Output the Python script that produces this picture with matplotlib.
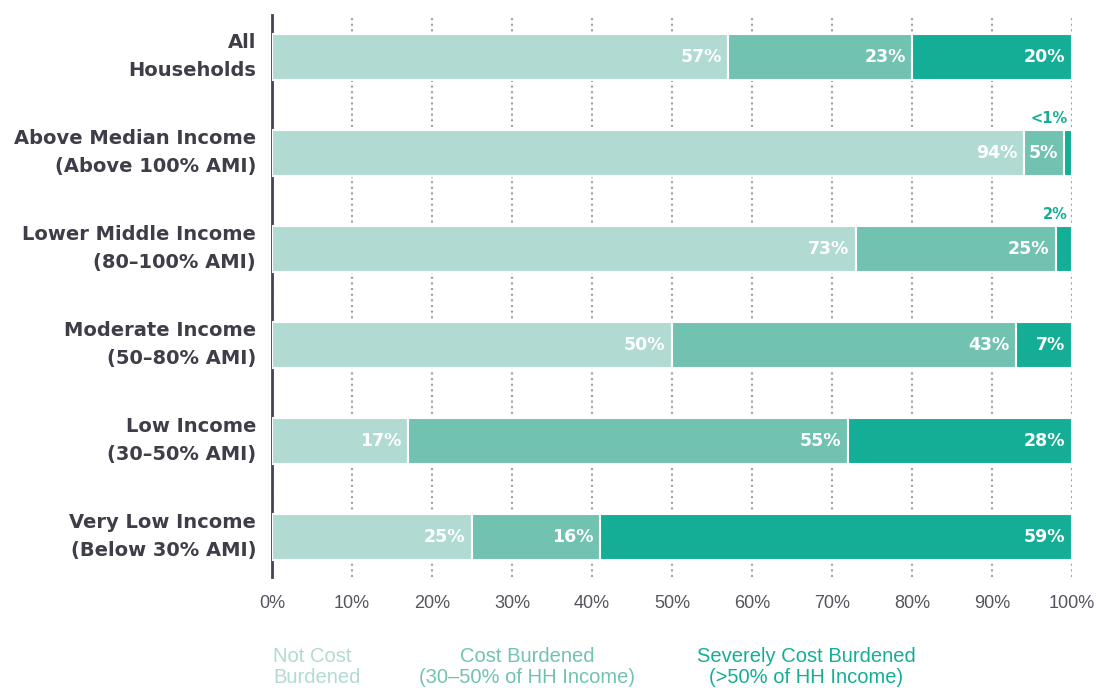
import matplotlib.pyplot as plt
import numpy as np

categories = ["All\nHouseholds", "Above Median Income\n(Above 100% AMI)",
              "Lower Middle Income\n(80\u2013100% AMI)", "Moderate Income\n(50\u201380% AMI)",
              "Low Income\n(30\u201350% AMI)", "Very Low Income\n(Below 30% AMI)"]
not_burdened = [57, 94, 73, 50, 17, 25]
burdened = [23, 5, 25, 43, 55, 16]
severe = [20, 1, 2, 7, 28, 59]
severe_labels = ["20%", "<1%", "2%", "7%", "28%", "59%"]
ticks = [0, 10, 20, 30, 40, 50, 60, 70, 80, 90, 100]
legend_names = ["Not Cost\nBurdened", "Cost Burdened\n(30\u201350% of HH Income)",
                "Severely Cost Burdened\n(>50% of HH Income)"]

colors = ["#b1dbd2", "#71c2b1", "#14ae96"]
label_color = "#3e3e48"
bold_font = "DejaVu Sans"
thin_font = "Liberation Sans"

fig = plt.figure(figsize=(10.99, 6.88), dpi=100)
ax = fig.add_axes([272 / 1099, 1 - 577 / 688, 800 / 1099, 562 / 688])

y = np.arange(len(categories))
series = [not_burdened, burdened, severe]
left = np.zeros(len(categories))
for k, vals in enumerate(series):
    ax.barh(y, vals, left=left, height=0.48, color=colors[k],
            edgecolor="white", linewidth=1.5, zorder=3)
    for i, v in enumerate(vals):
        end = left[i] + v
        txt = severe_labels[i] if k == 2 else f"{v}%"
        if v >= 4:
            ax.text(end - 0.8, y[i], txt, ha="right", va="center", color="white",
                    fontsize=12.5, fontweight="bold", family=bold_font, zorder=4)
        else:
            # tiny segments get their label above the bar
            ax.text(end - 0.5, y[i] - 0.36, txt, ha="right", va="center", color=colors[2],
                    fontsize=10.5, fontweight="bold", family=bold_font, zorder=4)
    left = left + np.array(vals)

ax.set_xlim(0, 100)
ax.set_ylim(5 + 0.417, -0.4375)
ax.set_xticks(ticks)
ax.set_xticklabels([f"{t}%" for t in ticks], family=thin_font, fontsize=13,
                   color="#54545e")
ax.tick_params(axis="x", length=0, pad=13)
ax.set_yticks(y)
ax.set_yticklabels(categories, family=bold_font, fontsize=14, fontweight="bold",
                   color=label_color, linespacing=1.6, va="center")
ax.tick_params(axis="y", length=0, pad=11.5)
ax.xaxis.grid(True, linestyle=(0, (1, 1.7)), color="#a0a0a0", linewidth=1.5, zorder=0)
ax.set_axisbelow(True)
for s in ["top", "right", "bottom"]:
    ax.spines[s].set_visible(False)
ax.spines["left"].set_color("#444450")
ax.spines["left"].set_linewidth(2)

# legend as text
fig.text(273 / 1099, 1 - 667 / 688, legend_names[0], ha="left", va="center",
         color=colors[0], fontsize=14.5, family=thin_font, linespacing=1.15)
fig.text(527 / 1099, 1 - 667 / 688, legend_names[1], ha="center", va="center",
         color=colors[1], fontsize=14.5, family=thin_font, linespacing=1.15)
fig.text(806 / 1099, 1 - 667 / 688, legend_names[2], ha="center", va="center",
         color=colors[2], fontsize=14.5, family=thin_font, linespacing=1.15)

fig.savefig("out.png", dpi=100)
